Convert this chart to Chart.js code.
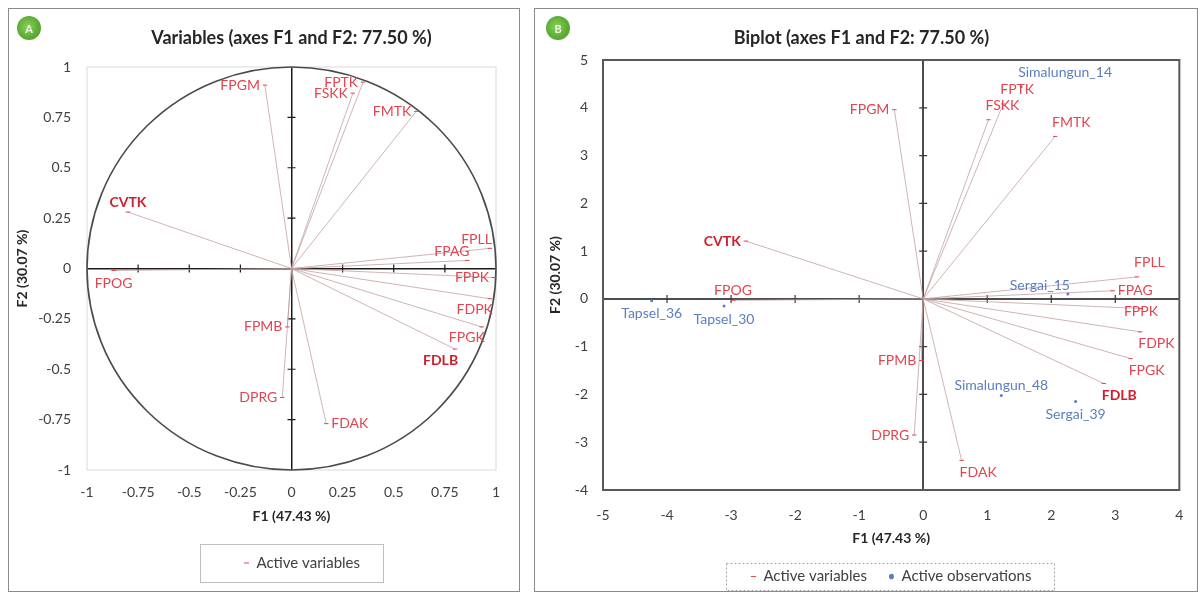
<!DOCTYPE html>
<html>
<head>
<meta charset="utf-8">
<script src="https://cdn.jsdelivr.net/npm/chart.js@4.4.1/dist/chart.umd.min.js"></script>
<style>
  html, body { margin: 0; padding: 0; background: #fff; width: 1200px; height: 594px; overflow: hidden; }
  .panel { position: absolute; border: 1.5px solid #8a8a8a; box-sizing: border-box; }
  .badge { position: absolute; width: 24px; height: 24px; border-radius: 50%;
           background: radial-gradient(circle at 45% 45%, #8ccf5c 0%, #5eae36 55%, #4a9426 100%);
           color: #eaf6e0; font: bold 11px Lato, sans-serif; display: flex; align-items: center; justify-content: center; }
  canvas { position: absolute; top: 0; }
</style>
</head>
<body>
<div class="panel" style="left:8px;top:8px;width:512px;height:584px"></div>
<div class="panel" style="left:534px;top:8px;width:664px;height:584px"></div>
<canvas id="cA" width="527" height="594" style="left:0"></canvas>
<canvas id="cB" width="673" height="594" style="left:527px"></canvas>
<div class="badge" style="left:17px;top:16px">A</div>
<div class="badge" style="left:546px;top:16px">B</div>

<script>
// ---- PCA results: variables (correlation circle) ----
const varNames = ['FPGM', 'FPTK', 'FSKK', 'FMTK', 'CVTK', 'FPOG', 'FPLL', 'FPAG',
                  'FPPK', 'FDPK', 'FPGK', 'FDLB', 'FPMB', 'DPRG', 'FDAK'];
const corrF1 = [-0.13, 0.35, 0.30, 0.61, -0.80, -0.87, 0.97, 0.86,
                0.99, 0.97, 0.93, 0.80, -0.02, -0.045, 0.17];
const corrF2 = [0.91, 0.925, 0.87, 0.78, 0.28, -0.01, 0.10, 0.04,
                -0.045, -0.15, -0.29, -0.40, -0.29, -0.64, -0.77];

// ---- biplot coordinates of the same variables ----
const biF1 = [-0.45, 1.25, 1.02, 2.06, -2.77, -2.97, 3.34, 2.96,
              3.40, 3.39, 3.24, 2.82, -0.03, -0.14, 0.60];
const biF2 = [3.96, 4.08, 3.75, 3.40, 1.21, -0.03, 0.46, 0.17,
              -0.20, -0.69, -1.25, -1.77, -1.29, -2.85, -3.38];

// ---- observations ----
const obsNames = ['Simalungun_14', 'Tapsel_36', 'Tapsel_30', 'Sergai_15', 'Simalungun_48', 'Sergai_39'];
const obsF1 = [1.53, -4.24, -3.11, 2.26, 1.22, 2.38];
const obsF2 = [4.44, -0.04, -0.15, 0.10, -2.02, -2.15];

// ---- tick values ----
const ticksA = [-1, -0.75, -0.5, -0.25, 0, 0.25, 0.5, 0.75, 1];
const ticksBx = [-5, -4, -3, -2, -1, 0, 1, 2, 3, 4];
const ticksBy = [-4, -3, -2, -1, 0, 1, 2, 3, 4, 5];

// label anchors (l/r/a/b = left/right/above/below of the point)
const placeA = ['l', 'l', 'l', 'l', 'a', 'b', 'al', 'al', 'l', 'bl', 'bl', 'bl', 'l', 'l', 'r'];
const placeB = ['l', 'ar', 'ar', 'ar', 'l', 'a', 'ar', 'r', 'c', 'br', 'br', 'br', 'l', 'l', 'br'];
const placeObs = ['ar', 'b', 'b', 'al', 'a', 'b'];
const boldVars = ['CVTK', 'FDLB'];

const RED = '#e3444f';
const RED_BOLD = '#d01f2b';
const BLUE = '#5a7ebf';
const RAY = 'rgba(196,160,163,0.8)';
const FONT = 'Lato, "Liberation Sans", sans-serif';

Chart.defaults.font.family = FONT;
Chart.defaults.color = '#404040';

const toPoints = (xs, ys) => xs.map((x, i) => ({ x, y: ys[i] }));
// segments origin -> vector tip, separated by gaps
const rays = (xs, ys) => {
  const out = [];
  xs.forEach((x, i) => { out.push({ x: 0, y: 0 }, { x, y: ys[i] }, { x: NaN, y: NaN }); });
  return out;
};

function anchorText(p, px, py) {
  switch (p) {
    case 'l':  return [px - 5, py, 'right'];
    case 'r':  return [px + 5, py, 'left'];
    case 'a':  return [px, py - 10, 'center'];
    case 'b':  return [px, py + 13, 'center'];
    case 'c':  return [px, py + 3, 'center'];
    case 'al': return [px + 2, py - 9, 'right'];
    case 'ar': return [px - 3, py - 14, 'left'];
    case 'bl': return [px + 3, py + 11, 'right'];
    case 'br': return [px - 2, py + 12, 'left'];
  }
  return [px, py, 'center'];
}

// names next to points
const pointLabels = {
  id: 'pointLabels',
  afterDatasetsDraw(chart) {
    const ctx = chart.ctx;
    ctx.save();
    ctx.textBaseline = 'middle';
    chart.data.datasets.forEach((ds, di) => {
      if (!ds.names) return;
      const meta = chart.getDatasetMeta(di);
      meta.data.forEach((el, i) => {
        const name = ds.names[i];
        const bold = ds.isVariable && boldVars.includes(name);
        const [tx, ty, align] = anchorText(ds.placement[i], el.x, el.y);
        ctx.font = (bold ? 'bold ' : '') + '14px ' + FONT;
        ctx.fillStyle = bold ? RED_BOLD : ds.textColor;
        ctx.textAlign = align;
        ctx.fillText(name, tx, ty);
      });
    });
    ctx.restore();
  }
};

// plot frame, unit circle and small tick marks on the zero axes
const panelDecor = {
  id: 'panelDecor',
  afterLayout(chart, args, o) {
    // nudge the legend sideways
    const lg = chart.legend;
    if (lg && o.legendShift) { lg.left += o.legendShift; lg.right += o.legendShift; }
  },
  beforeDatasetsDraw(chart, args, o) {
    const { ctx, chartArea: a, scales: { x, y } } = chart;
    ctx.save();
    ctx.strokeStyle = o.frameColor;
    ctx.lineWidth = o.frameWidth;
    ctx.strokeRect(a.left, a.top, a.right - a.left, a.bottom - a.top);
    const x0 = x.getPixelForValue(0), y0 = y.getPixelForValue(0);
    ctx.strokeStyle = o.axisColor;
    ctx.lineWidth = 1.2;
    ctx.beginPath();
    x.ticks.forEach(t => {
      if (t.value === 0) return;
      const px = x.getPixelForValue(t.value);
      if (px <= a.left + 2 || px >= a.right - 2) return;
      ctx.moveTo(px, y0 - o.tick); ctx.lineTo(px, y0 + o.tick);
    });
    y.ticks.forEach(t => {
      if (t.value === 0) return;
      const py = y.getPixelForValue(t.value);
      if (py <= a.top + 2 || py >= a.bottom - 2) return;
      ctx.moveTo(x0 - o.tick, py); ctx.lineTo(x0 + o.tick, py);
    });
    ctx.stroke();
    if (o.circle) {
      const rx = x.getPixelForValue(1) - x0;
      const ry = y0 - y.getPixelForValue(1);
      ctx.beginPath();
      ctx.ellipse(x0, y0, rx, ry, 0, 0, Math.PI * 2);
      ctx.strokeStyle = '#4a4a4a';
      ctx.lineWidth = 1.6;
      ctx.stroke();
    }
    ctx.restore();
  }
};

// framed legend
const legendFrame = {
  id: 'legendFrame',
  afterDraw(chart, args, o) {
    const lg = chart.legend;
    if (!lg || !lg.legendHitBoxes || !lg.legendHitBoxes.length) return;
    const hb = lg.legendHitBoxes;
    const l = Math.min(...hb.map(b => b.left));
    const r = Math.max(...hb.map(b => b.left + b.width));
    const cy = hb[0].top + hb[0].height / 2;
    const ctx = chart.ctx;
    ctx.save();
    ctx.strokeStyle = o.color;
    ctx.lineWidth = 1;
    if (o.dash) ctx.setLineDash(o.dash);
    ctx.strokeRect(Math.round(l - o.padL) + 0.5, Math.round(cy - o.halfH) + 0.5,
                   Math.round(r - l + o.padL + o.padR), Math.round(o.halfH * 2));
    ctx.restore();
  }
};

function zeroGrid(color, width) {
  return {
    drawTicks: false,
    color: c => (c.tick && c.tick.value === 0) ? color : 'rgba(0,0,0,0)',
    lineWidth: c => (c.tick && c.tick.value === 0) ? width : 1
  };
}

function axis(min, max, tickVals, size, padding, titleText, titlePad, grid) {
  return {
    type: 'linear', min, max,
    afterBuildTicks: s => { s.ticks = tickVals.map(v => ({ value: v })); },
    afterFit: s => { if (s.isHorizontal()) s.height = size; else s.width = size; },
    grid,
    border: { display: false },
    ticks: { padding, autoSkip: false, maxRotation: 0, font: { size: 14 }, color: '#404040',
             callback: v => String(v) },
    title: { display: true, text: titleText, color: '#262626',
             font: { size: 14, weight: 'bold' }, padding: titlePad }
  };
}

const legendFilter = (item, data) => !data.datasets[item.datasetIndex].hideInLegend;
const legendLabels = pad => ({ usePointStyle: true, pointStyleWidth: 5, boxHeight: 4, padding: pad,
                               font: { size: 15 }, color: '#404040', filter: legendFilter });

// ---------- A: correlation circle ----------
new Chart(document.getElementById('cA'), {
  type: 'scatter',
  data: {
    datasets: [
      { label: 'Active variables', data: toPoints(corrF1, corrF2), pointStyle: 'line', pointRadius: 2.2,
        borderColor: RED, backgroundColor: RED, borderWidth: 1,
        names: varNames, placement: placeA, textColor: RED, isVariable: true },
      { label: 'vectors', data: rays(corrF1, corrF2), showLine: true, spanGaps: false, pointRadius: 0,
        borderColor: RAY, borderWidth: 1, hideInLegend: true }
    ]
  },
  options: {
    responsive: false, animation: false, events: [],
    layout: { padding: { top: 20, left: 10, right: 31, bottom: 13.5 } },
    plugins: {
      title: { display: true, text: 'Variables (axes F1 and F2: 77.50 %)', fullSize: false,
               color: '#262626', font: { size: 18, weight: 'bold' }, padding: { top: 7.2, bottom: 18.2 } },
      legend: { position: 'bottom', fullSize: false, labels: legendLabels(30.5) },
      tooltip: { enabled: false },
      panelDecor: { frameColor: '#d9d9d9', frameWidth: 1, axisColor: '#1a1a1a', tick: 4, circle: true,
                    legendShift: 10.5 },
      legendFrame: { color: '#bfbfbf', padL: 44, padR: 22.5, halfH: 19 }
    },
    scales: {
      x: axis(-1, 1, ticksA, 55, 13.6, 'F1 (47.43 %)', { top: 0, bottom: 0.6 }, zeroGrid('#1a1a1a', 1.5)),
      y: axis(-1, 1, ticksA, 77, 16, 'F2 (30.07 %)', { top: 3.6, bottom: 0 }, zeroGrid('#1a1a1a', 1.5))
    }
  },
  plugins: [panelDecor, pointLabels, legendFrame]
});

// ---------- B: biplot ----------
new Chart(document.getElementById('cB'), {
  type: 'scatter',
  data: {
    datasets: [
      { label: 'Active variables', data: toPoints(biF1, biF2), pointStyle: 'line', pointRadius: 2.2,
        borderColor: RED, backgroundColor: RED, borderWidth: 1,
        names: varNames, placement: placeB, textColor: RED, isVariable: true },
      { label: 'Active observations', data: toPoints(obsF1, obsF2), pointStyle: 'circle', pointRadius: 1.5,
        borderColor: BLUE, backgroundColor: BLUE, borderWidth: 0,
        names: obsNames, placement: placeObs, textColor: BLUE },
      { label: 'vectors', data: rays(biF1, biF2), showLine: true, spanGaps: false, pointRadius: 0,
        borderColor: RAY, borderWidth: 1, hideInLegend: true }
    ]
  },
  options: {
    responsive: false, animation: false, events: [],
    layout: { padding: { top: 20, left: 14, right: 18, bottom: 0 } },
    plugins: {
      title: { display: true, text: 'Biplot (axes F1 and F2: 77.50 %)',
               color: '#262626', font: { size: 18, weight: 'bold' }, padding: { top: 7.2, bottom: 11.2 } },
      legend: { position: 'bottom', fullSize: false, labels: legendLabels(22) },
      tooltip: { enabled: false },
      panelDecor: { frameColor: '#595959', frameWidth: 2, axisColor: '#3a3a3a', tick: 4, circle: false },
      legendFrame: { color: '#a6a6a6', padL: 24.5, padR: 22.5, halfH: 13.5, dash: [2, 2] }
    },
    scales: {
      x: axis(-5, 4, ticksBx, 57, 16.6, 'F1 (47.43 %)', { top: 0, bottom: 0.6 }, zeroGrid('#4d4d4d', 2)),
      y: axis(-4, 5, ticksBy, 62, 15, 'F2 (30.07 %)', { top: 5.6, bottom: 0 }, zeroGrid('#4d4d4d', 2))
    }
  },
  plugins: [panelDecor, pointLabels, legendFrame]
});
</script>
</body>
</html>
